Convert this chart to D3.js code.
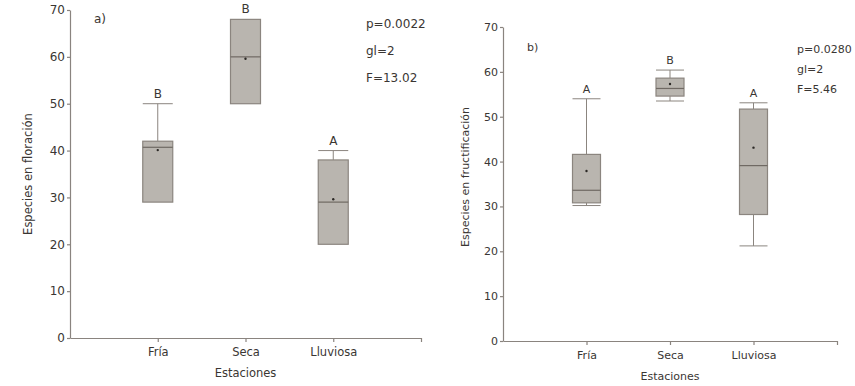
<!DOCTYPE html>
<html>
<head>
<meta charset="utf-8">
<script src="https://cdn.jsdelivr.net/npm/d3@7"></script>
<style>
  body { margin: 0; background: #fff; }
  svg text { font-family: "DejaVu Sans", Verdana, sans-serif; fill: #3a3633; }
</style>
</head>
<body>
<svg id="chart" width="855" height="386"></svg>
<script>
const seasons = ['Fría', 'Seca', 'Lluviosa'];

// a) especies en floración
const floBoxes = [
    {min: 29, q1: 29, med: 40.7, q3: 42, max: 50, mean: 40.1},
    {min: 50, q1: 50, med: 60, q3: 68, max: 68, mean: 59.6},
    {min: 20, q1: 20, med: 29, q3: 38, max: 40, mean: 29.6}
];
const floLetters = ['B', 'B', 'A'];
const floStats = ['p=0.0022', 'gl=2', 'F=13.02'];

// b) especies en fructificación
const fruBoxes = [
    {min: 30.2, q1: 30.8, med: 33.6, q3: 41.6, max: 54, mean: 37.9},
    {min: 53.5, q1: 54.6, med: 56.3, q3: 58.6, max: 60.4, mean: 57.3},
    {min: 21.2, q1: 28.2, med: 39.1, q3: 51.7, max: 53.1, mean: 43.1}
];
const fruLetters = ['A', 'B', 'A'];
const fruStats = ['p=0.0280', 'gl=2', 'F=5.46'];

const yTicks = [0, 10, 20, 30, 40, 50, 60, 70];

const boxFill = '#b9b5af', boxStroke = '#8b857f', axisCol = '#8a847f';

const svg = d3.select('#chart');

function drawPanel(cfg) {
    const {x0, x1, y0, y1, data, letters, stats, tag, yTitle, fs} = cfg;
    const g = svg.append('g');

    const x = d3.scaleLinear().domain([0, seasons.length + 1]).range([x0, x1]);
    const y = d3.scaleLinear().domain([0, 70]).range([y1, y0]);

    const yAxis = g.append('g').attr('transform', `translate(${x0},0)`)
        .call(d3.axisLeft(y).tickValues(yTicks).tickSize(3).tickPadding(2).tickSizeOuter(0));
    yAxis.selectAll('text').style('font-size', cfg.yTickFs + 'px');
    const xAxis = g.append('g').attr('transform', `translate(0,${y1})`)
        .call(d3.axisBottom(x).tickValues([1, 2, 3, 4]).tickSize(4).tickPadding(6).tickSizeOuter(0)
            .tickFormat(d => seasons[d - 1] || ''));
    xAxis.selectAll('text').style('font-size', fs + 'px');
    [yAxis, xAxis].forEach(a => {
        a.selectAll('path, line').style('stroke', axisCol).style('stroke-width', 1.2);
        a.selectAll('text').style('fill', '#3a3633');
    });

    const bw = cfg.boxW;
    const cx = d => x(data.indexOf(d) + 1);
    const boxes = g.selectAll('.box').data(data).enter().append('g').attr('class', 'box');
    // whiskers
    boxes.append('line')
        .attr('x1', cx).attr('x2', cx)
        .attr('y1', d => y(d.max)).attr('y2', d => y(d.q3))
        .style('stroke', boxStroke);
    boxes.append('line')
        .attr('x1', cx).attr('x2', cx)
        .attr('y1', d => y(d.q1)).attr('y2', d => y(d.min))
        .style('stroke', boxStroke);
    boxes.filter(d => d.max > d.q3).append('line')
        .attr('x1', d => cx(d) - bw / 2).attr('x2', d => cx(d) + bw / 2)
        .attr('y1', d => y(d.max)).attr('y2', d => y(d.max))
        .style('stroke', boxStroke);
    boxes.filter(d => d.min < d.q1).append('line')
        .attr('x1', d => cx(d) - bw / 2).attr('x2', d => cx(d) + bw / 2)
        .attr('y1', d => y(d.min)).attr('y2', d => y(d.min))
        .style('stroke', boxStroke);
    // box
    boxes.append('rect')
        .attr('x', d => cx(d) - bw / 2).attr('width', bw)
        .attr('y', d => y(d.q3)).attr('height', d => y(d.q1) - y(d.q3))
        .style('fill', boxFill).style('stroke', boxStroke).style('stroke-width', 1.2);
    // median
    boxes.append('line')
        .attr('x1', d => cx(d) - bw / 2).attr('x2', d => cx(d) + bw / 2)
        .attr('y1', d => y(d.med)).attr('y2', d => y(d.med))
        .style('stroke', '#6f6963').style('stroke-width', 1.2);
    // mean
    boxes.append('circle')
        .attr('cx', cx).attr('cy', d => y(d.mean)).attr('r', 1.2)
        .style('fill', '#2b2825');
    // letters
    boxes.append('text')
        .attr('x', cx).attr('y', d => y(d.max) - 6)
        .attr('text-anchor', 'middle').style('font-size', cfg.statFs + 'px')
        .text((d, i) => letters[i]);

    g.append('text').attr('x', cfg.tagX).attr('y', cfg.tagY).style('font-size', cfg.statFs + 'px').text(tag);
    g.selectAll('.stat').data(stats).enter().append('text').attr('class', 'stat')
        .attr('x', cfg.statX).attr('y', (d, i) => cfg.statY + i * cfg.statStep)
        .style('font-size', cfg.statFs + 'px').text(d => d);

    g.append('text').attr('x', x(2)).attr('y', y1 + 39)
        .attr('text-anchor', 'middle').style('font-size', fs + 'px').text('Estaciones');
    g.append('text').attr('transform', `translate(${cfg.yTitleX},${cfg.yTitleY}) rotate(-90)`)
        .attr('text-anchor', 'middle').style('font-size', fs + 'px').text(yTitle);
}

drawPanel({
    x0: 70, x1: 421, y0: 10, y1: 338, boxW: 30, fs: 11.5, yTickFs: 12, statFs: 12,
    data: floBoxes, letters: floLetters, stats: floStats,
    tag: 'a)', tagX: 94, tagY: 23,
    statX: 366, statY: 28, statStep: 27,
    yTitle: 'Especies en floración', yTitleX: 32, yTitleY: 174
});

drawPanel({
    x0: 503, x1: 837, y0: 27, y1: 341, boxW: 28, fs: 11, yTickFs: 11, statFs: 11,
    data: fruBoxes, letters: fruLetters, stats: fruStats,
    tag: 'b)', tagX: 527, tagY: 51,
    statX: 797, statY: 52.5, statStep: 20.3,
    yTitle: 'Especies en fructificación', yTitleX: 469, yTitleY: 177
});
</script>
</body>
</html>
